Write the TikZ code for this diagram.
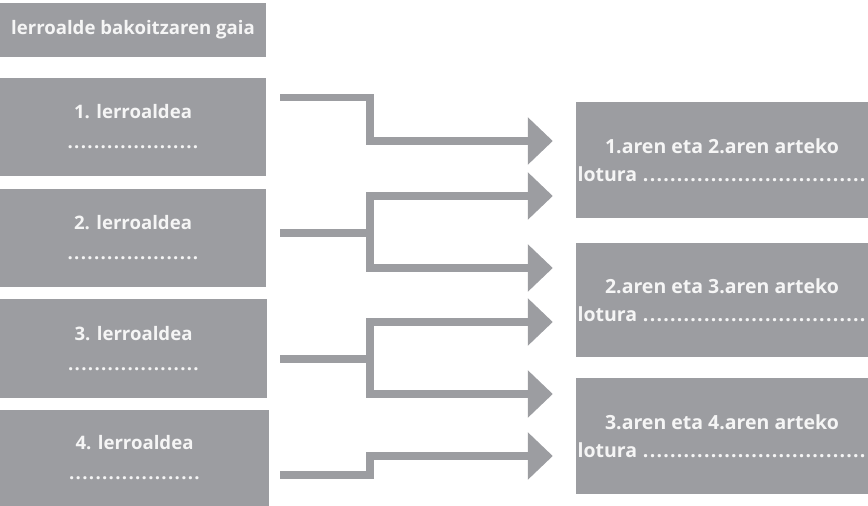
\documentclass[tikz,border=0pt]{standalone}
\usepackage{fontspec}
\setmainfont{Open Sans}[BoldFont={Open Sans Bold}]
\usetikzlibrary{arrows.meta}
\definecolor{boxgray}{RGB}{156,157,161}
\definecolor{txt}{RGB}{245,245,245}
\newcommand\dotrow[1]{\hbox to #1{\xleaders\hbox to 6.6pt{\hss.\hss}\hfill}}
\tikzset{
  lbox/.style={rectangle, fill=boxgray, inner sep=0pt, text=txt, font=\fontsize{18.6}{30}\selectfont\bfseries, align=center},
  rbox/.style={rectangle, fill=boxgray, inner sep=0pt, text=txt, font=\fontsize{19.5}{28}\selectfont\bfseries, align=center, minimum width=292pt},
  conn/.style={draw=boxgray, line width=7.5pt, line join=miter},
  tip/.style={-{Triangle[width=46pt,length=25pt]}},
  tips/.style={{Triangle[width=46pt,length=25pt]}-{Triangle[width=46pt,length=25pt]}}
}
\begin{document}
\begin{tikzpicture}[x=1pt,y=-1pt]
\useasboundingbox (0,0) rectangle (868,506);
% left boxes
\node[lbox, minimum width=266pt, minimum height=54pt] (t) at (133,30) {lerroalde bakoitzaren gaia};
\node[lbox, minimum width=266pt, minimum height=98pt] (b1) at (133,127) {1. lerroaldea\\\dotrow{132pt}};
\node[lbox, minimum width=266pt, minimum height=98pt] (b2) at (133,238) {2. lerroaldea\\\dotrow{132pt}};
\node[lbox, minimum width=267pt, minimum height=99pt] (b3) at (133.5,348.5) {3. lerroaldea\\\dotrow{132pt}};
\node[lbox, minimum width=269pt, minimum height=96pt] (b4) at (134.5,458) {4. lerroaldea\\\dotrow{132pt}};
% right boxes
\node[rbox, minimum height=116pt] (r1) at (722,160) {1.aren eta 2.aren arteko\\lotura \dotrow{224pt}};
\node[rbox, minimum height=114pt] (r2) at (722,300) {2.aren eta 3.aren arteko\\lotura \dotrow{224pt}};
\node[rbox, minimum height=116pt] (r3) at (722,436) {3.aren eta 4.aren arteko\\lotura \dotrow{224pt}};
% connector points
\coordinate (s1) at (280,97.5);
\coordinate (s2) at (280,233);
\coordinate (s3) at (280,359);
\coordinate (s4) at (280,475);
\coordinate (e1) at ([xshift=-23pt]r1.west |- 0,141);
\coordinate (e2a) at ([xshift=-23pt]r1.west |- 0,196);
\coordinate (e2b) at ([xshift=-23pt]r2.west |- 0,268);
\coordinate (e3a) at ([xshift=-23pt]r2.west |- 0,322);
\coordinate (e3b) at ([xshift=-23pt]r3.west |- 0,394);
\coordinate (e4) at ([xshift=-23pt]r3.west |- 0,456);
% connectors
\draw[conn, tip] (s1) -- (370,97.5) -- (370,141) -- (e1);
\draw[conn] (s2) -- (370,233);
\draw[conn, tips] (e2a) -- (370,196) -- (370,268) -- (e2b);
\draw[conn] (s3) -- (370,359);
\draw[conn, tips] (e3a) -- (370,322) -- (370,394) -- (e3b);
\draw[conn, tip] (s4) -- (370,475) -- (370,456) -- (e4);
\end{tikzpicture}
\end{document}
